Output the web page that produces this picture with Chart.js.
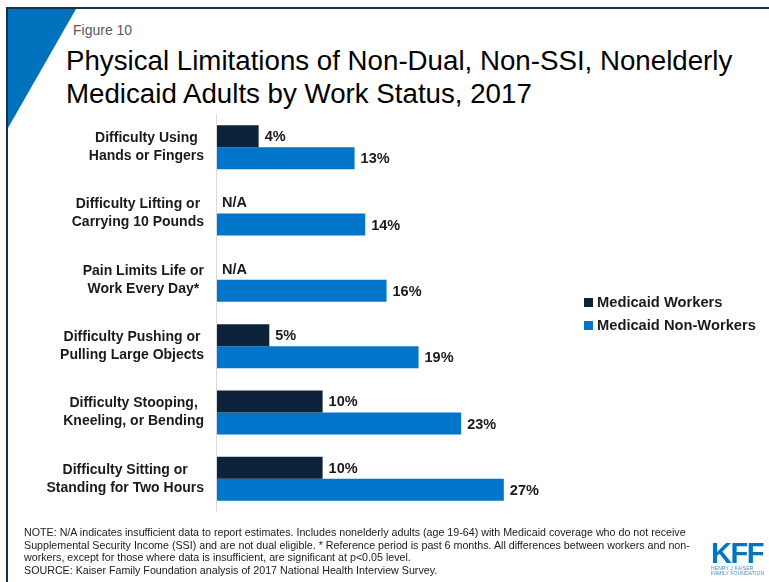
<!DOCTYPE html>
<html>
<head>
<meta charset="utf-8">
<script src="https://cdn.jsdelivr.net/npm/chart.js@4.4.1/dist/chart.umd.min.js"></script>
<style>
  html, body { margin: 0; padding: 0; background: #fff; }
  body { width: 769px; height: 582px; position: relative; overflow: hidden; font-family: Arial, "Liberation Sans", sans-serif; }
  #frame { position: absolute; left: 6px; top: 7px; right: -10px; bottom: -10px; border-left: 2px solid #1c2f45; border-top: 2px solid #1c2f45; }
  #corner { position: absolute; left: 8px; top: 9px; width: 68px; height: 119px; background: #0071bc; clip-path: polygon(0 0, 100% 0, 0 100%); }
  #fig { position: absolute; left: 73px; top: 22px; font-size: 14px; color: #595959; }
  #title { position: absolute; left: 66px; top: 44px; font-size: 27.7px; line-height: 33px; color: #000; }
  #chart { position: absolute; left: 0; top: 0; }
  #legend { position: absolute; left: 584px; top: 292px; font-size: 14.7px; font-weight: bold; color: #1a1a1a; }
  #legend div { height: 23px; line-height: 20px; white-space: nowrap; }
  #legend span { display: inline-block; width: 9px; height: 9px; margin-right: 4px; vertical-align: 0; }
  #notes { position: absolute; left: 24px; top: 526px; font-size: 10.7px; line-height: 12.5px; color: #1a1a1a; }
  #logo { position: absolute; left: 711px; top: 540px; color: #0076c0; }
  #logo b { display: block; font-size: 29px; line-height: 26px; letter-spacing: -1.5px; }
  #logo i { display: block; font-style: normal; font-size: 5px; line-height: 5px; letter-spacing: 0.1px; color: #3b8fcf; }
</style>
</head>
<body>
<div id="frame"></div>
<div id="corner"></div>
<div id="fig">Figure 10</div>
<div id="title">Physical Limitations of Non-Dual, Non-SSI, Nonelderly<br>Medicaid Adults by Work Status, 2017</div>
<canvas id="chart" width="769" height="582"></canvas>
<div id="legend"></div>
<div id="notes">NOTE: N/A indicates insufficient data to report estimates. Includes nonelderly adults (age 19-64) with Medicaid coverage who do not receive<br>Supplemental Security Income (SSI) and are not dual eligible. * Reference period is past 6 months. All differences between workers and non-<br>workers, except for those where data is insufficient, are significant at p&lt;0.05 level.<br>SOURCE: Kaiser Family Foundation analysis of 2017 National Health Interview Survey.</div>
<div id="logo"><b>KFF</b><i>HENRY J KAISER<br>FAMILY FOUNDATION</i></div>
<script>
const categories = [
  ['Difficulty Using', 'Hands or Fingers'],
  ['Difficulty Lifting or', 'Carrying 10 Pounds'],
  ['Pain Limits Life or', 'Work Every Day*'],
  ['Difficulty Pushing or', 'Pulling Large Objects'],
  ['Difficulty Stooping,', 'Kneeling, or Bending'],
  ['Difficulty Sitting or', 'Standing for Two Hours']
];
// null = insufficient data (shown as N/A)
const workers    = [4, null, null, 5, 10, 10];
const nonWorkers = [13, 14, 16, 19, 23, 27];
const seriesNames = ['Medicaid Workers', 'Medicaid Non-Workers'];
const seriesColors = ['#0c233b', '#0075c9'];

// legend
const legendEl = document.getElementById('legend');
seriesNames.forEach((name, i) => {
  legendEl.insertAdjacentHTML('beforeend',
    `<div><span style="background:${seriesColors[i]}"></span>${name}</div>`);
});

// axis line, category labels and value labels
const annotate = {
  id: 'annotate',
  afterDatasetsDraw(chart) {
    const { ctx, scales: { x, y }, chartArea } = chart;
    ctx.save();
    const x0 = x.getPixelForValue(0);
    ctx.strokeStyle = '#d9d9d9';
    ctx.lineWidth = 1;
    ctx.beginPath();
    ctx.moveTo(x0 + 0.5, chartArea.top);
    ctx.lineTo(x0 + 0.5, chartArea.bottom);
    ctx.stroke();

    // label block sits right against the axis, lines centred inside it
    ctx.fillStyle = '#1a1a1a';
    ctx.textAlign = 'center';
    ctx.textBaseline = 'middle';
    ctx.font = 'bold 14px Arial, "Liberation Sans", sans-serif';
    const right = x0 - 12;
    categories.forEach((lines, i) => {
      const cy = y.getPixelForValue(i);
      const w = Math.max(...lines.map(l => ctx.measureText(l).width));
      const cx = right - w / 2;
      ctx.fillText(lines[0], cx, cy - 9);
      ctx.fillText(lines[1], cx, cy + 9);
    });

    ctx.textAlign = 'left';
    ctx.font = 'bold 14.5px Arial, "Liberation Sans", sans-serif';
    const blue = chart.getDatasetMeta(1).data;
    chart.getDatasetMeta(0).data.forEach((bar, i) => {
      const b = blue[i];
      const wy = b.y - b.height;
      if (workers[i] == null) {
        ctx.fillText('N/A', x0 + 6, wy + 1);
      } else {
        ctx.fillText(workers[i] + '%', bar.x + 6, wy + 1);
      }
      ctx.fillText(nonWorkers[i] + '%', b.x + 6, b.y + 1);
    });
    ctx.restore();
  }
};

new Chart(document.getElementById('chart'), {
  type: 'bar',
  data: {
    labels: categories.map(c => c.join(' ')),
    datasets: [
      { label: seriesNames[0], data: workers, backgroundColor: seriesColors[0] },
      { label: seriesNames[1], data: nonWorkers, backgroundColor: seriesColors[1] }
    ]
  },
  options: {
    indexAxis: 'y',
    responsive: false,
    animation: false,
    categoryPercentage: 0.664,
    barPercentage: 1,
    layout: { padding: { left: 216, right: 20, top: 114, bottom: 70 } },
    plugins: { legend: { display: false }, tooltip: { enabled: false } },
    scales: {
      x: { display: false, min: 0, max: 50 },
      y: { display: false }
    }
  },
  plugins: [annotate]
});
</script>
</body>
</html>
